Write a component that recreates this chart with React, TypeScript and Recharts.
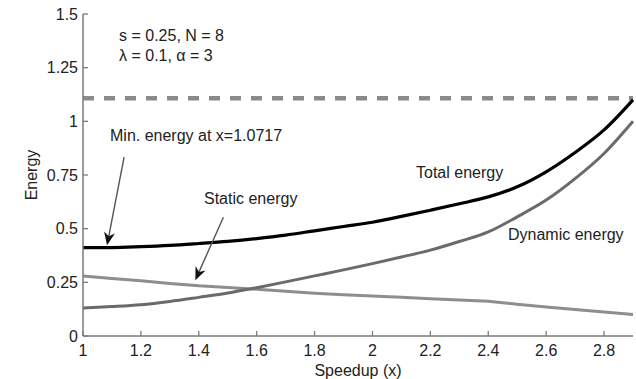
import React from 'react';
import { LineChart, Line, XAxis, YAxis, ReferenceLine, Customized } from 'recharts';

const speedup = [1, 1.1, 1.2, 1.3, 1.4, 1.5, 1.6, 1.7, 1.8, 1.9, 2, 2.1, 2.2, 2.3, 2.4, 2.5, 2.6, 2.7, 2.8, 2.9];
const totalEnergy = [0.412, 0.412, 0.416, 0.422, 0.431, 0.441, 0.454, 0.47, 0.49, 0.51, 0.53, 0.557, 0.586, 0.616, 0.648, 0.695, 0.765, 0.855, 0.96, 1.1];
const dynamicEnergy = [0.13, 0.137, 0.146, 0.161, 0.18, 0.2, 0.225, 0.252, 0.28, 0.308, 0.337, 0.368, 0.4, 0.44, 0.485, 0.555, 0.633, 0.733, 0.85, 1.0];
const staticEnergy = [0.28, 0.268, 0.257, 0.245, 0.234, 0.226, 0.218, 0.208, 0.199, 0.192, 0.186, 0.18, 0.174, 0.168, 0.162, 0.148, 0.135, 0.123, 0.112, 0.1];
const upperBound = 1.107;

const xTicks = [1, 1.2, 1.4, 1.6, 1.8, 2, 2.2, 2.4, 2.6, 2.8];
const yTicks = [0, 0.25, 0.5, 0.75, 1, 1.25, 1.5];

// arrow annotations: [from, to] in data units
const minArrow = [{ x: 1.142, y: 0.833 }, { x: 1.083, y: 0.423 }];
const staticArrow = [{ x: 1.485, y: 0.553 }, { x: 1.388, y: 0.26 }];

const data = speedup.map((x, i) => ({
  x,
  total: totalEnergy[i],
  dynamic: dynamicEnergy[i],
  stat: staticEnergy[i],
}));

const FONT = '"Liberation Sans", Arial, Helvetica, sans-serif';
const TEXT = '#222';
const FRAME = '#7a7a7a';
// negative tick size = matlab style ticks pointing into the plot
const TICK_IN = -5;

const tickText = { fill: TEXT, fontSize: 16, fontFamily: FONT };
const frameLine = { stroke: FRAME, strokeWidth: 1.5 };
const tickLine = { stroke: FRAME, strokeWidth: 1.3 };
const NoLabel = () => <g />;

const Arrow = (props: any) => {
  const { x1, y1, x2, y2 } = props;
  const ang = Math.atan2(y2 - y1, x2 - x1);
  const len = 13;
  const half = 5.5;
  const bx = x2 - len * Math.cos(ang);
  const by = y2 - len * Math.sin(ang);
  const nx = -Math.sin(ang);
  const ny = Math.cos(ang);
  const notchX = x2 - len * 0.7 * Math.cos(ang);
  const notchY = y2 - len * 0.7 * Math.sin(ang);
  const pts = [
    `${x2},${y2}`,
    `${bx + nx * half},${by + ny * half}`,
    `${notchX},${notchY}`,
    `${bx - nx * half},${by - ny * half}`,
  ].join(' ');
  return (
    <g>
      <line x1={x1} y1={y1} x2={notchX} y2={notchY} stroke="#555" strokeWidth={1.4} />
      <polygon points={pts} fill="#111" />
    </g>
  );
};

const Notes = () => (
  <g fontFamily={FONT} fontSize={16} fill={TEXT}>
    <text x={119} y={41}>s = 0.25, N = 8</text>
    <text x={119} y={61}>λ = 0.1, α = 3</text>
    <text x={110} y={141}>Min. energy at x=1.0717</text>
    <text x={416} y={178}>Total energy</text>
    <text x={204} y={204}>Static energy</text>
    <text x={508} y={240}>Dynamic energy</text>
    <text x={31} y={175} transform="rotate(-90 31 175)" textAnchor="middle" dy="0.355em">Energy</text>
  </g>
);

export default function App() {
  return (
    <div style={{ position: 'absolute', left: 0, top: 0, background: '#fff' }}>
      <LineChart width={636} height={379} data={data} margin={{ top: 14, right: 3, bottom: 0, left: 0 }}>
        <XAxis
          dataKey="x"
          type="number"
          domain={[1, 2.9]}
          ticks={xTicks}
          height={43}
          tickSize={TICK_IN}
          tickMargin={14}
          tick={tickText}
          tickLine={tickLine}
          axisLine={frameLine}
          label={{ value: 'Speedup (x)', position: 'insideBottom', offset: 3, fill: TEXT, fontSize: 16, fontFamily: FONT }}
        />
        <XAxis
          xAxisId="top"
          orientation="top"
          type="number"
          domain={[1, 2.9]}
          ticks={xTicks}
          height={0}
          tickSize={TICK_IN}
          tick={<NoLabel />}
          tickLine={tickLine}
          axisLine={frameLine}
        />
        <YAxis
          type="number"
          domain={[0, 1.5]}
          ticks={yTicks}
          width={83}
          tickSize={TICK_IN}
          tickMargin={10}
          tick={tickText}
          tickLine={tickLine}
          axisLine={frameLine}
        />
        <YAxis
          yAxisId="right"
          orientation="right"
          type="number"
          domain={[0, 1.5]}
          ticks={yTicks}
          width={0}
          tickSize={TICK_IN}
          tick={<NoLabel />}
          tickLine={tickLine}
          axisLine={frameLine}
        />
        <ReferenceLine y={upperBound} stroke="#8a8a8a" strokeWidth={4.5} strokeDasharray="11 10" />
        <Line dataKey="stat" type="linear" stroke="#8e8e8e" strokeWidth={3} dot={false} activeDot={false} isAnimationActive={false} />
        <Line dataKey="dynamic" type="monotone" stroke="#6a6a6a" strokeWidth={3} dot={false} activeDot={false} isAnimationActive={false} />
        <Line dataKey="total" type="monotone" stroke="#000" strokeWidth={3.2} dot={false} activeDot={false} isAnimationActive={false} />
        <ReferenceLine segment={minArrow} shape={<Arrow />} />
        <ReferenceLine segment={staticArrow} shape={<Arrow />} />
        <Customized component={<Notes />} />
      </LineChart>
    </div>
  );
}
